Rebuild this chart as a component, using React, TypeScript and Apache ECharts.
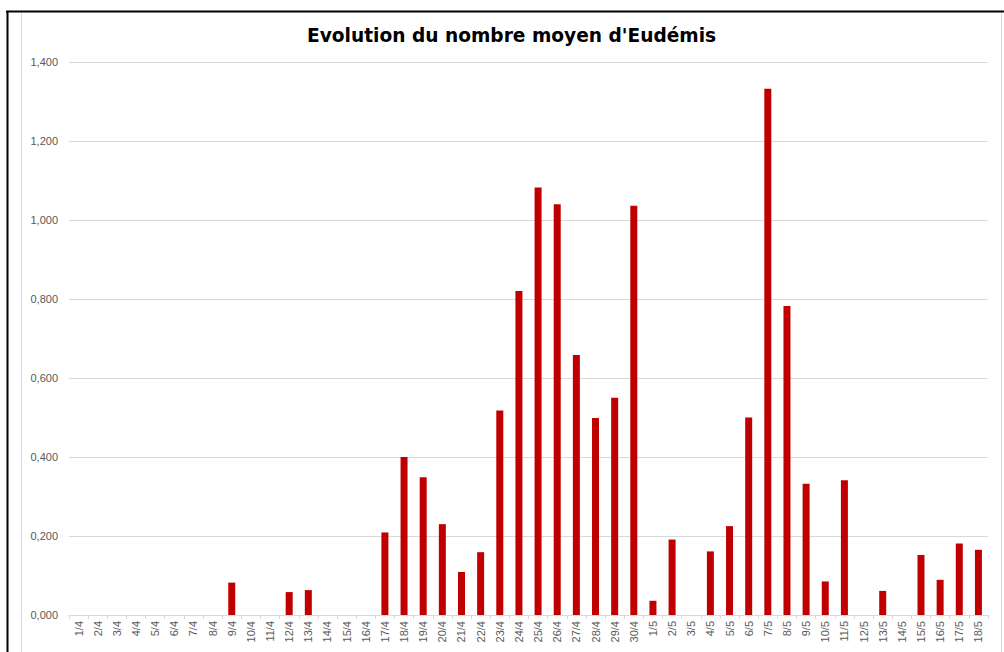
import React, { useEffect, useRef } from "react";
import * as echarts from "echarts";

const aprilDays: string[] = [
  "1/4","2/4","3/4","4/4","5/4","6/4","7/4","8/4","9/4","10/4",
  "11/4","12/4","13/4","14/4","15/4","16/4","17/4","18/4","19/4","20/4",
  "21/4","22/4","23/4","24/4","25/4","26/4","27/4","28/4","29/4","30/4",
];
const mayDays: string[] = [
  "1/5","2/5","3/5","4/5","5/5","6/5","7/5","8/5","9/5","10/5",
  "11/5","12/5","13/5","14/5","15/5","16/5","17/5","18/5",
];
const categories: string[] = [...aprilDays, ...mayDays];

const aprilValues: number[] = [
  0, 0, 0, 0, 0, 0, 0, 0, 0.082, 0,
  0, 0.058, 0.063, 0, 0, 0, 0.209, 0.4, 0.349, 0.23,
  0.109, 0.159, 0.518, 0.82, 1.082, 1.04, 0.658, 0.499, 0.55, 1.036,
];
const mayValues: number[] = [
  0.036, 0.191, 0, 0.161, 0.225, 0.5, 1.332, 0.782, 0.332, 0.085,
  0.341, 0, 0.061, 0, 0.152, 0.089, 0.181, 0.165,
];
const values: number[] = [...aprilValues, ...mayValues];

const title = "Evolution du nombre moyen d'Eudémis";
const yTicks = { min: 0, max: 1.4, interval: 0.2 };

export default function App() {
  const ref = useRef<HTMLDivElement>(null);
  useEffect(() => {
    if (!ref.current) return;
    const chart = echarts.init(ref.current, null, { renderer: "svg" });
    chart.setOption({
      animation: false,
      backgroundColor: "#ffffff",
      title: {
        text: title,
        left: 307,
        top: 26,
        padding: 0,
        textStyle: {
          fontFamily: "DejaVu Sans",
          fontWeight: "bold",
          fontSize: 18.6,
          color: "#000000",
        },
      },
      graphic: [
        {
          type: "line",
          shape: { x1: 21.5, y1: 12, x2: 21.5, y2: 652 },
          style: { stroke: "#D9D9D9", lineWidth: 1 },
        },
        {
          type: "line",
          shape: { x1: 1001.5, y1: 12, x2: 1001.5, y2: 652 },
          style: { stroke: "#D9D9D9", lineWidth: 1 },
        },
        {
          type: "line",
          shape: { x1: 6, y1: 11.5, x2: 1004, y2: 11.5 },
          style: { stroke: "#000000", lineWidth: 2 },
        },
        {
          type: "line",
          shape: { x1: 7.5, y1: 11, x2: 7.5, y2: 652 },
          style: { stroke: "#000000", lineWidth: 2 },
        },
      ],
      grid: {
        left: 69,
        right: 16,
        top: 62,
        bottom: 37,
        containLabel: false,
        outerBoundsMode: "none",
      },
      xAxis: {
        type: "category",
        data: categories,
        boundaryGap: true,
        axisLine: { show: true, lineStyle: { color: "#D9D9D9", width: 1 } },
        axisTick: { show: true, length: 4, lineStyle: { color: "#D9D9D9" } },
        axisLabel: {
          interval: 0,
          rotate: 90,
          margin: 6,
          fontSize: 11,
          fontFamily: "Liberation Sans",
          color: "#595959",
        },
      },
      yAxis: {
        type: "value",
        min: yTicks.min,
        max: yTicks.max,
        interval: yTicks.interval,
        axisLine: { show: false },
        axisTick: { show: false },
        splitLine: { lineStyle: { color: "#D9D9D9", width: 1 } },
        axisLabel: {
          margin: 11,
          fontSize: 11,
          fontFamily: "Liberation Sans",
          color: "#595959",
          formatter: (v: number) => v.toFixed(3).replace(".", ","),
        },
      },
      series: [
        {
          type: "bar",
          data: values,
          barWidth: 7,
          itemStyle: { color: "#C00000" },
        },
      ],
    });
    return () => chart.dispose();
  }, []);
  return (
    <div
      ref={ref}
      style={{ position: "fixed", left: 0, top: 0, width: 1004, height: 652 }}
    />
  );
}
